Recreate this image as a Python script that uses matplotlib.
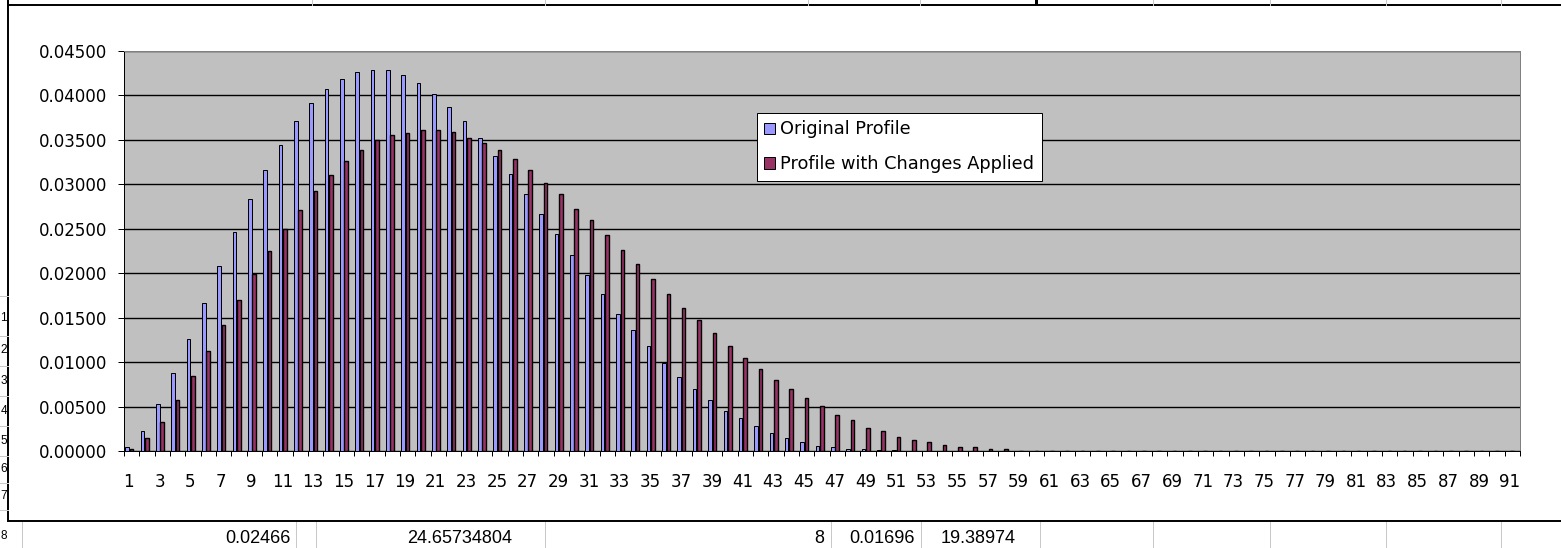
import matplotlib
matplotlib.use("Agg")
import matplotlib.pyplot as plt
from matplotlib import font_manager
from matplotlib.patches import Rectangle, Patch
from matplotlib.ticker import FixedLocator, FixedFormatter

# ---- data -------------------------------------------------------------
categories = list(range(1, 92))

original_profile = [
    0.00040, 0.00220, 0.00525, 0.00878, 0.01260, 0.01669, 0.02077, 0.02466, 0.02831, 0.03157,
    0.03446, 0.03712, 0.03915, 0.04076, 0.04181, 0.04260, 0.04282, 0.04282, 0.04226, 0.04140,
    0.04020, 0.03870, 0.03709, 0.03521, 0.03322, 0.03120, 0.02895, 0.02670, 0.02445, 0.02201,
    0.01976, 0.01770, 0.01545, 0.01365, 0.01177, 0.00990, 0.00836, 0.00694, 0.00570, 0.00446,
    0.00367, 0.00285, 0.00206, 0.00142, 0.00101, 0.00060, 0.00041, 0.00022, 0.00017, 0.00012,
    0.00007, 0.00004, 0.00002, 0.00001, 0.0, 0.0, 0.0, 0.0, 0.0, 0.0,
    0.0, 0.0, 0.0, 0.0, 0.0, 0.0, 0.0, 0.0, 0.0, 0.0,
    0.0, 0.0, 0.0, 0.0, 0.0, 0.0, 0.0, 0.0, 0.0, 0.0,
    0.0, 0.0, 0.0, 0.0, 0.0, 0.0, 0.0, 0.0, 0.0, 0.0,
    0.0,
]

changed_profile = [
    0.00020, 0.00146, 0.00326, 0.00578, 0.00840, 0.01125, 0.01414, 0.01696, 0.01995, 0.02246,
    0.02501, 0.02715, 0.02921, 0.03109, 0.03262, 0.03390, 0.03502, 0.03551, 0.03581, 0.03607,
    0.03607, 0.03589, 0.03525, 0.03469, 0.03382, 0.03281, 0.03157, 0.03015, 0.02895, 0.02726,
    0.02595, 0.02426, 0.02265, 0.02100, 0.01939, 0.01770, 0.01612, 0.01470, 0.01331, 0.01185,
    0.01043, 0.00922, 0.00799, 0.00697, 0.00592, 0.00510, 0.00409, 0.00349, 0.00262, 0.00225,
    0.00161, 0.00124, 0.00105, 0.00064, 0.00045, 0.00045, 0.00022, 0.00022, 0.0, 0.0,
    0.0, 0.0, 0.0, 0.0, 0.0, 0.0, 0.0, 0.0, 0.0, 0.0,
    0.0, 0.0, 0.0, 0.0, 0.0, 0.0, 0.0, 0.0, 0.0, 0.0,
    0.0, 0.0, 0.0, 0.0, 0.0, 0.0, 0.0, 0.0, 0.0, 0.0,
    0.0,
]

series_names = ["Original Profile", "Profile with Changes Applied"]
y_ticks = [0.0, 0.005, 0.01, 0.015, 0.02, 0.025, 0.03, 0.035, 0.04, 0.045]

# neighbouring worksheet cells
row_digits = ["1", "2", "3", "4", "5", "6", "7", "8"]
bottom_cells = ["0.02466", "24.65734804", "8", "0.01696", "19.38974"]

# ---- figure -----------------------------------------------------------
W, H = 1561, 548
fig = plt.figure(figsize=(W / 100, H / 100), dpi=100)
fig.patch.set_facecolor("white")
plt.rcParams["font.family"] = ["DejaVu Sans"]
px = 0.72  # one pixel in points

installed = {f.name for f in font_manager.fontManager.ttflist}
cell_font = "Liberation Sans Narrow" if "Liberation Sans Narrow" in installed else "Liberation Sans"

# worksheet layer in pixel coordinates
bg = fig.add_axes([0, 0, 1, 1], zorder=0)
bg.set_xlim(0, W)
bg.set_ylim(H, 0)
bg.axis("off")
cell_grey = "#c8c8c8"
for x in [312, 545, 808, 920, 1153, 1270, 1386, 1501]:
    bg.plot([x, x], [0, 5], color=cell_grey, lw=px)
for x in [22, 296, 316, 545, 831, 921, 1040, 1153, 1270, 1386, 1501]:
    bg.plot([x, x], [522, H], color=cell_grey, lw=px)
for y in [296, 336, 366, 396, 426, 456, 483, 510]:
    bg.plot([0, 8], [y, y], color=cell_grey, lw=px)
bg.add_patch(Rectangle((1035, 0), 3, 9, color="black", lw=0))
bg.add_patch(Rectangle((7, 0), 2, 9, color="black", lw=0))
for d, y in zip(row_digits, [318, 350, 381, 411, 441, 469, 496, 536]):
    bg.text(7, y, d, ha="right", va="center", fontsize=8.5, color="black",
            family=cell_font)
for t, x in zip(bottom_cells, [291, 512, 824, 915, 1016]):
    bg.text(x, 530, t, ha="right", va="top", fontsize=13, color="black",
            family=cell_font)

# chart area
bg.add_patch(Rectangle((8, 5), W, 516, facecolor="white", edgecolor="black", lw=1.4))

# ---- plot area --------------------------------------------------------
left, right, top, bottom = 124, 1520, 51, 451
ax = fig.add_axes([left / W, 1 - bottom / H, (right - left) / W, (bottom - top) / H], zorder=2)
ax.set_facecolor("#c0c0c0")

slot = 1 / 3.5          # bar slot with a 150 % gap
bar_w = slot - 0.05     # drawn width, outline included in the slot
shift = -0.16           # series pair sits slightly left of the category centre
ax.bar([c - slot / 2 + shift for c in categories], original_profile, width=bar_w,
       color="#9999ff", edgecolor="black", linewidth=px, zorder=3)
ax.bar([c + slot / 2 + shift for c in categories], changed_profile, width=bar_w,
       color="#993366", edgecolor="black", linewidth=1.0, zorder=3)

ax.set_xlim(0.5, len(categories) + 0.5)
ax.set_ylim(0, 0.045)

# y axis
ax.set_yticks(y_ticks)
ax.set_yticklabels([f"{v:.5f}" for v in y_ticks], fontsize=12)
ax.yaxis.grid(True, color="black", lw=1.0, zorder=1)
ax.set_axisbelow(True)
ax.tick_params(axis="y", direction="out", length=4.3, width=px, pad=8, colors="black")

# x axis: tick marks between categories, labels on odd categories
ax.xaxis.set_major_locator(FixedLocator([c + 0.5 for c in [0] + categories]))
ax.xaxis.set_major_formatter(FixedFormatter([""] * (len(categories) + 1)))
odd = [c for c in categories if c % 2 == 1]
ax.xaxis.set_minor_locator(FixedLocator([c - 0.18 for c in odd]))
ax.xaxis.set_minor_formatter(FixedFormatter([str(c) for c in odd]))
ax.tick_params(axis="x", which="major", direction="out", length=3.6, width=px)
ax.tick_params(axis="x", which="minor", length=0, pad=16, labelsize=12)

for s in ["left", "bottom"]:
    ax.spines[s].set_color("black")
    ax.spines[s].set_linewidth(px)
for s in ["top", "right"]:
    ax.spines[s].set_color("#808080")
    ax.spines[s].set_linewidth(px)

# legend
handles = [Patch(facecolor="#9999ff", edgecolor="black", linewidth=px),
           Patch(facecolor="#993366", edgecolor="black", linewidth=px)]
leg = ax.legend(handles, series_names, loc="upper left",
                bbox_to_anchor=(757 / W, 1 - 113 / H), bbox_transform=fig.transFigure,
                borderaxespad=0, fontsize=12.8, frameon=True, fancybox=False,
                framealpha=1, edgecolor="black", borderpad=0.42,
                handlelength=0.6, handleheight=0.6, handletextpad=0.28,
                labelspacing=0.95)
leg.get_frame().set_linewidth(px)

fig.savefig("out.png", dpi=100, facecolor="white")
